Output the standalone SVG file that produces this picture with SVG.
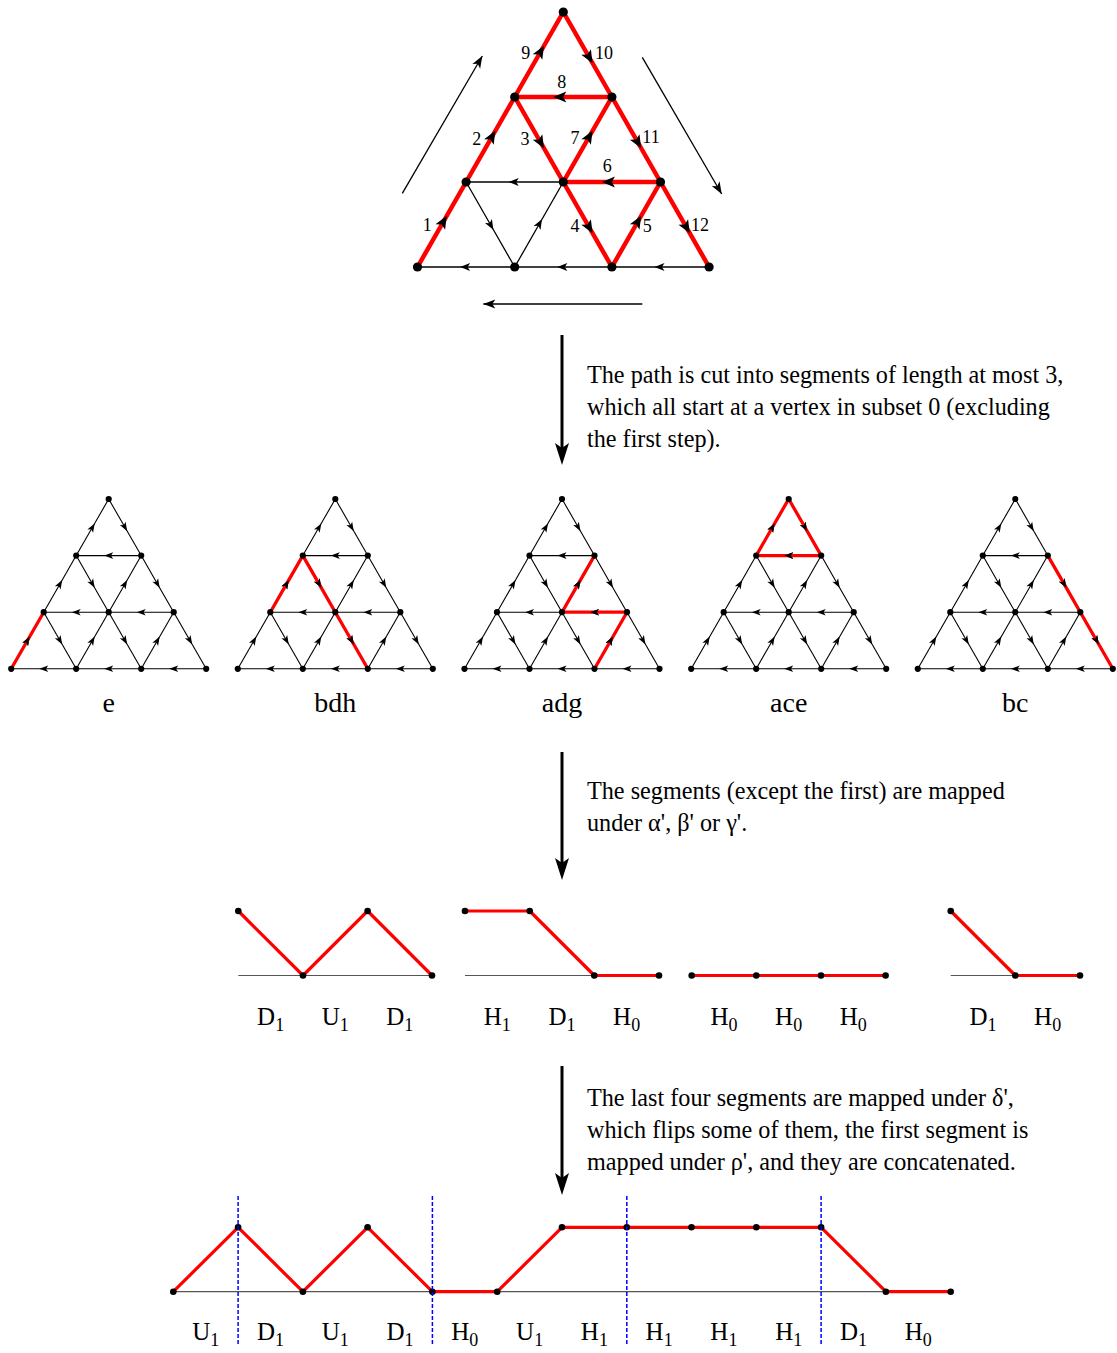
<svg xmlns="http://www.w3.org/2000/svg" xmlns:xlink="http://www.w3.org/1999/xlink" width="1117" height="1353" viewBox="0 0 1117 1353">
<style>
text{font-family:"Liberation Serif","Times New Roman",serif;fill:#000}
.num{font-size:18px;text-anchor:middle}
.cap{font-size:24.2px}
.plab{font-size:28px;text-anchor:middle}
.seg{font-size:25px;text-anchor:middle}
.sub{font-size:18px}
.kb{fill:none;stroke:#000;stroke-width:1.3;marker-mid:url(#mb)}
.kr{fill:none;stroke:#f00;stroke-width:4.5;marker-mid:url(#ar)}
.sb{fill:none;stroke:#000;stroke-width:1.1;marker-mid:url(#ms)}
.sr{fill:none;stroke:#f00;stroke-width:3.3;marker-mid:url(#ms)}
.thin{fill:none;stroke:#000;stroke-width:1.3;marker-end:url(#me)}
.big{fill:none;stroke:#000;stroke-width:3;marker-end:url(#mbig)}
.axis{stroke:#555;stroke-width:1.2;fill:none}
.rp{fill:none;stroke:#f00;stroke-width:3.2;stroke-linejoin:round}
.blue{stroke:#00f;stroke-width:1.5;stroke-dasharray:4 2;fill:none}
</style>
<defs>
<marker id="ar" markerUnits="userSpaceOnUse" markerWidth="14" markerHeight="12" refX="3" refY="5.5" orient="auto" overflow="visible"><path d="M0,0 L13,5.5 L0,11 L3,5.5 Z" fill="#000"/></marker>
<marker id="mb" markerUnits="userSpaceOnUse" markerWidth="11" markerHeight="9" refX="4" refY="4" orient="auto" overflow="visible"><path d="M0,0 L10,4 L0,8 L2.5,4 Z" fill="#000"/></marker>
<marker id="ms" markerUnits="userSpaceOnUse" markerWidth="10" markerHeight="8" refX="4.5" refY="3.3" orient="auto" overflow="visible"><path d="M0,0 L9,3.3 L0,6.6 L2.2,3.3 Z" fill="#000"/></marker>
<marker id="me" markerUnits="userSpaceOnUse" markerWidth="13" markerHeight="10" refX="12" refY="4.5" orient="auto" overflow="visible"><path d="M0,0 L12,4.5 L0,9 L3,4.5 Z" fill="#000"/></marker>
<marker id="mbig" markerUnits="userSpaceOnUse" markerWidth="23" markerHeight="15" refX="12" refY="7" orient="auto" overflow="visible"><path d="M0,0 L22,7 L0,14 L5,7 Z" fill="#000"/></marker>
<g id="lat-edges">
<path class="sb" d="M-32.5,56.6 L-16.25,28.3 L0,0"/>
<path class="sb" d="M-65,113.2 L-48.75,84.9 L-32.5,56.6"/>
<path class="sb" d="M0,113.2 L16.25,84.9 L32.5,56.6"/>
<path class="sb" d="M-97.5,169.8 L-81.25,141.5 L-65,113.2"/>
<path class="sb" d="M-32.5,169.8 L-16.25,141.5 L0,113.2"/>
<path class="sb" d="M32.5,169.8 L48.75,141.5 L65,113.2"/>
<path class="sb" d="M0,0 L16.25,28.3 L32.5,56.6"/>
<path class="sb" d="M-32.5,56.6 L-16.25,84.9 L0,113.2"/>
<path class="sb" d="M32.5,56.6 L48.75,84.9 L65,113.2"/>
<path class="sb" d="M-65,113.2 L-48.75,141.5 L-32.5,169.8"/>
<path class="sb" d="M0,113.2 L16.25,141.5 L32.5,169.8"/>
<path class="sb" d="M65,113.2 L81.25,141.5 L97.5,169.8"/>
<path class="sb" d="M32.5,56.6 L0,56.6 L-32.5,56.6"/>
<path class="sb" d="M65,113.2 L32.5,113.2 L0,113.2"/>
<path class="sb" d="M0,113.2 L-32.5,113.2 L-65,113.2"/>
<path class="sb" d="M97.5,169.8 L65,169.8 L32.5,169.8"/>
<path class="sb" d="M32.5,169.8 L0,169.8 L-32.5,169.8"/>
<path class="sb" d="M-32.5,169.8 L-65,169.8 L-97.5,169.8"/>
</g>
<g id="lat-dots" fill="#000">
<circle cx="0" cy="0" r="3.1"/>
<circle cx="-32.5" cy="56.6" r="3.1"/><circle cx="32.5" cy="56.6" r="3.1"/>
<circle cx="-65" cy="113.2" r="3.1"/><circle cx="0" cy="113.2" r="3.1"/><circle cx="65" cy="113.2" r="3.1"/>
<circle cx="-97.5" cy="169.8" r="3.1"/><circle cx="-32.5" cy="169.8" r="3.1"/><circle cx="32.5" cy="169.8" r="3.1"/><circle cx="97.5" cy="169.8" r="3.1"/>
</g>
</defs>
<rect width="1117" height="1353" fill="#fff"/>

<!-- Top lattice -->
<g id="big-lattice">
<g id="big-edges">
<path class="kb" d="M466.1,182 L490.4,224.5 L514.7,267"/>
<path class="kb" d="M514.7,267 L539,224.5 L563.3,182"/>
<path class="kb" d="M563.3,182 L514.7,182 L466.1,182"/>
<path class="kb" d="M709.1,267 L660.5,267 L611.9,267"/>
<path class="kb" d="M611.9,267 L563.3,267 L514.7,267"/>
<path class="kb" d="M514.7,267 L466.1,267 L417.5,267"/>
<path class="kr" d="M417.5,267 L441.8,224.5 L466.1,182"/>
<path class="kr" d="M466.1,182 L490.4,139.5 L514.7,97"/>
<path class="kr" d="M514.7,97 L539,139.5 L563.3,182"/>
<path class="kr" d="M563.3,182 L587.6,224.5 L611.9,267"/>
<path class="kr" d="M611.9,267 L636.2,224.5 L660.5,182"/>
<path class="kr" d="M660.5,182 L611.9,182 L563.3,182"/>
<path class="kr" d="M563.3,182 L587.6,139.5 L611.9,97"/>
<path class="kr" d="M611.9,97 L563.3,97 L514.7,97"/>
<path class="kr" d="M514.7,97 L539,54.5 L563.3,12"/>
<path class="kr" d="M563.3,12 L587.6,54.5 L611.9,97"/>
<path class="kr" d="M611.9,97 L636.2,139.5 L660.5,182"/>
<path class="kr" d="M660.5,182 L684.8,224.5 L709.1,267"/>
</g>
<g id="big-nodes" fill="#000">
<circle cx="563.3" cy="12" r="4.6"/>
<circle cx="514.7" cy="97" r="4.6"/><circle cx="611.9" cy="97" r="4.6"/>
<circle cx="466.1" cy="182" r="4.6"/><circle cx="563.3" cy="182" r="4.6"/><circle cx="660.5" cy="182" r="4.6"/>
<circle cx="417.5" cy="267" r="4.6"/><circle cx="514.7" cy="267" r="4.6"/><circle cx="611.9" cy="267" r="4.6"/><circle cx="709.1" cy="267" r="4.6"/>
</g>
<g id="big-labels">
<text class="num" x="525.7" y="58.5">9</text>
<text class="num" x="604" y="58.5">10</text>
<text class="num" x="561.7" y="88">8</text>
<text class="num" x="476.7" y="144.5">2</text>
<text class="num" x="525" y="144.5">3</text>
<text class="num" x="575" y="143.5">7</text>
<text class="num" x="651" y="143">11</text>
<text class="num" x="607.3" y="172">6</text>
<text class="num" x="427.3" y="230.5">1</text>
<text class="num" x="575" y="232">4</text>
<text class="num" x="647.3" y="231.5">5</text>
<text class="num" x="700" y="230.5">12</text>
</g>
<g id="direction-arrows">
<path class="thin" d="M402.3,193.3 L482.3,56"/>
<path class="thin" d="M642.3,57.3 L721.7,194"/>
<path class="thin" d="M642.3,304 L483.3,304"/>
</g>
</g>

<g id="step-arrows">
<path class="big" d="M562,335 L562,455"/>
<path class="big" d="M562,752 L562,870"/>
<path class="big" d="M562,1066 L562,1185"/>
</g>

<g id="captions">
<text class="cap" x="587" y="383">The path is cut into segments of length at most 3,</text>
<text class="cap" x="587" y="415">which all start at a vertex in subset 0 (excluding</text>
<text class="cap" x="587" y="447">the first step).</text>
<text class="cap" x="587" y="799">The segments (except the first) are mapped</text>
<text class="cap" x="587" y="831">under α', β' or γ'.</text>
<text class="cap" x="587" y="1106">The last four segments are mapped under δ',</text>
<text class="cap" x="587" y="1138">which flips some of them, the first segment is</text>
<text class="cap" x="587" y="1170">mapped under ρ', and they are concatenated.</text>
</g>

<!-- Small lattices -->
<g id="panel-e" transform="translate(108.7,499)">
<use xlink:href="#lat-edges" href="#lat-edges"/>
<path class="sr" d="M-97.5,169.8 L-81.25,141.5 L-65,113.2"/>
<use xlink:href="#lat-dots" href="#lat-dots"/>
</g>
<g id="panel-bdh" transform="translate(335.3,499)">
<use xlink:href="#lat-edges" href="#lat-edges"/>
<path class="sr" d="M-65,113.2 L-48.75,84.9 L-32.5,56.6"/>
<path class="sr" d="M-32.5,56.6 L-16.25,84.9 L0,113.2"/>
<path class="sr" d="M0,113.2 L16.25,141.5 L32.5,169.8"/>
<use xlink:href="#lat-dots" href="#lat-dots"/>
</g>
<g id="panel-adg" transform="translate(562,499)">
<use xlink:href="#lat-edges" href="#lat-edges"/>
<path class="sr" d="M32.5,169.8 L48.75,141.5 L65,113.2"/>
<path class="sr" d="M65,113.2 L32.5,113.2 L0,113.2"/>
<path class="sr" d="M0,113.2 L16.25,84.9 L32.5,56.6"/>
<use xlink:href="#lat-dots" href="#lat-dots"/>
</g>
<g id="panel-ace" transform="translate(788.7,499)">
<use xlink:href="#lat-edges" href="#lat-edges"/>
<path class="sr" d="M-32.5,56.6 L-16.25,28.3 L0,0"/>
<path class="sr" d="M0,0 L16.25,28.3 L32.5,56.6"/>
<path class="sr" d="M32.5,56.6 L0,56.6 L-32.5,56.6"/>
<use xlink:href="#lat-dots" href="#lat-dots"/>
</g>
<g id="panel-bc" transform="translate(1015.3,499)">
<use xlink:href="#lat-edges" href="#lat-edges"/>
<path class="sr" d="M32.5,56.6 L48.75,84.9 L65,113.2"/>
<path class="sr" d="M65,113.2 L81.25,141.5 L97.5,169.8"/>
<use xlink:href="#lat-dots" href="#lat-dots"/>
</g>
<g id="panel-labels">
<text class="plab" x="108.7" y="712">e</text>
<text class="plab" x="335.3" y="712">bdh</text>
<text class="plab" x="562" y="712">adg</text>
<text class="plab" x="788.7" y="712">ace</text>
<text class="plab" x="1015.3" y="712">bc</text>
</g>

<!-- Mapped segments -->
<g id="mapped-segments">
<path class="axis" d="M238.3,975.5 H432 M465,975.5 H659 M691.7,975.5 H885.6 M950.7,975.5 H1080"/>
<path class="rp" d="M238.3,911 L303,975.5 L367.6,911 L432,975.5"/>
<path class="rp" d="M465,911 L529.7,911 L594.3,975.5 L659,975.5"/>
<path class="rp" d="M691.7,975.5 L885.6,975.5"/>
<path class="rp" d="M950.7,911 L1015.3,975.5 L1080,975.5"/>
<g fill="#000">
<circle cx="238.3" cy="911" r="3.3"/><circle cx="303" cy="975.5" r="3.3"/><circle cx="367.6" cy="911" r="3.3"/><circle cx="432" cy="975.5" r="3.3"/>
<circle cx="465" cy="911" r="3.3"/><circle cx="529.7" cy="911" r="3.3"/><circle cx="594.3" cy="975.5" r="3.3"/><circle cx="659" cy="975.5" r="3.3"/>
<circle cx="691.7" cy="975.5" r="3.3"/><circle cx="756.3" cy="975.5" r="3.3"/><circle cx="821" cy="975.5" r="3.3"/><circle cx="885.6" cy="975.5" r="3.3"/>
<circle cx="950.7" cy="911" r="3.3"/><circle cx="1015.3" cy="975.5" r="3.3"/><circle cx="1080" cy="975.5" r="3.3"/>
</g>
<g id="mapped-labels">
<text class="seg" x="270.6" y="1025">D<tspan class="sub" dy="6">1</tspan></text>
<text class="seg" x="335.3" y="1025">U<tspan class="sub" dy="6">1</tspan></text>
<text class="seg" x="399.8" y="1025">D<tspan class="sub" dy="6">1</tspan></text>
<text class="seg" x="497.3" y="1025">H<tspan class="sub" dy="6">1</tspan></text>
<text class="seg" x="562" y="1025">D<tspan class="sub" dy="6">1</tspan></text>
<text class="seg" x="626.6" y="1025">H<tspan class="sub" dy="6">0</tspan></text>
<text class="seg" x="724" y="1025">H<tspan class="sub" dy="6">0</tspan></text>
<text class="seg" x="788.6" y="1025">H<tspan class="sub" dy="6">0</tspan></text>
<text class="seg" x="853.3" y="1025">H<tspan class="sub" dy="6">0</tspan></text>
<text class="seg" x="983" y="1025">D<tspan class="sub" dy="6">1</tspan></text>
<text class="seg" x="1047.6" y="1025">H<tspan class="sub" dy="6">0</tspan></text>
</g>
</g>

<!-- Final concatenated path -->
<g id="final-path">
<path class="axis" d="M173.3,1291.7 H950.7"/>
<path class="rp" d="M173.3,1291.7 L238.1,1227.3 L302.9,1291.7 L367.6,1227.3 L432.4,1291.7 L497.2,1291.7 L562,1227.3 L821.1,1227.3 L885.9,1291.7 L950.7,1291.7"/>
<g fill="#000">
<circle cx="173.3" cy="1291.7" r="3.3"/><circle cx="238.1" cy="1227.3" r="3.3"/><circle cx="302.9" cy="1291.7" r="3.3"/><circle cx="367.6" cy="1227.3" r="3.3"/><circle cx="432.4" cy="1291.7" r="3.3"/><circle cx="497.2" cy="1291.7" r="3.3"/><circle cx="562" cy="1227.3" r="3.3"/><circle cx="626.8" cy="1227.3" r="3.3"/><circle cx="691.5" cy="1227.3" r="3.3"/><circle cx="756.3" cy="1227.3" r="3.3"/><circle cx="821.1" cy="1227.3" r="3.3"/><circle cx="885.9" cy="1291.7" r="3.3"/><circle cx="950.7" cy="1291.7" r="3.3"/>
</g>
<path class="blue" d="M238.1,1196 V1346 M432.4,1196 V1346 M626.8,1196 V1346 M821.1,1196 V1346"/>
<g id="final-labels">
<text class="seg" x="205.7" y="1340">U<tspan class="sub" dy="6">1</tspan></text>
<text class="seg" x="270.5" y="1340">D<tspan class="sub" dy="6">1</tspan></text>
<text class="seg" x="335.2" y="1340">U<tspan class="sub" dy="6">1</tspan></text>
<text class="seg" x="400" y="1340">D<tspan class="sub" dy="6">1</tspan></text>
<text class="seg" x="464.8" y="1340">H<tspan class="sub" dy="6">0</tspan></text>
<text class="seg" x="529.6" y="1340">U<tspan class="sub" dy="6">1</tspan></text>
<text class="seg" x="594.4" y="1340">H<tspan class="sub" dy="6">1</tspan></text>
<text class="seg" x="659.1" y="1340">H<tspan class="sub" dy="6">1</tspan></text>
<text class="seg" x="723.9" y="1340">H<tspan class="sub" dy="6">1</tspan></text>
<text class="seg" x="788.7" y="1340">H<tspan class="sub" dy="6">1</tspan></text>
<text class="seg" x="853.5" y="1340">D<tspan class="sub" dy="6">1</tspan></text>
<text class="seg" x="918.3" y="1340">H<tspan class="sub" dy="6">0</tspan></text>
</g>
</g>
</svg>
